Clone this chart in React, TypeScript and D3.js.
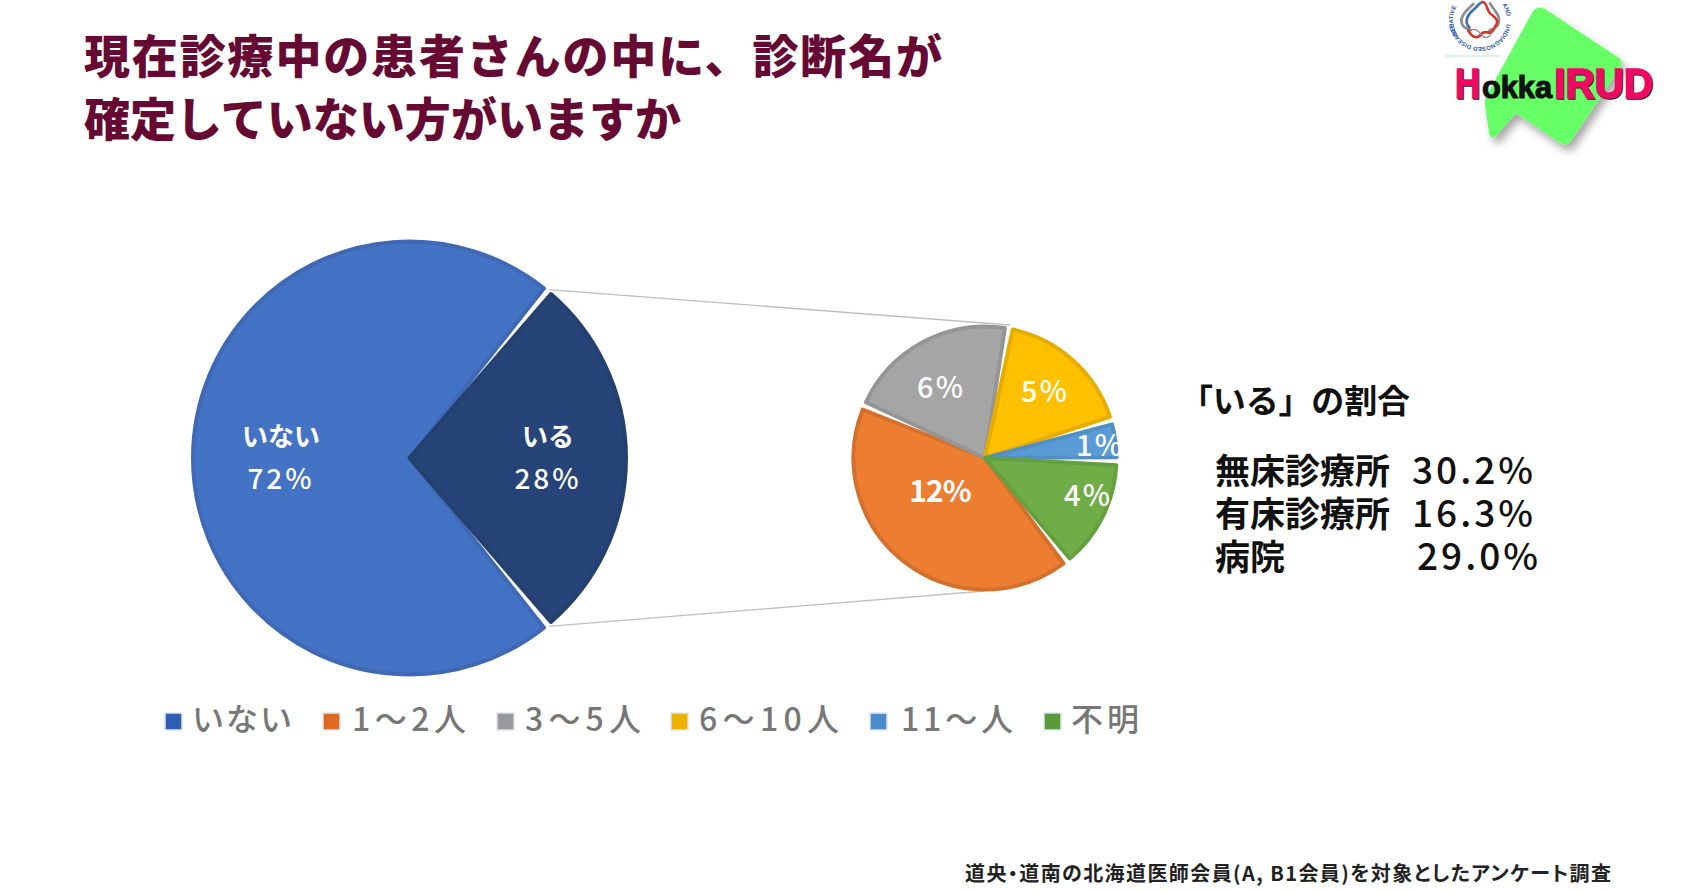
import React from "react";
import * as d3 from "d3";

const titleLines = ["現在診療中の患者さんの中に、診断名が", "確定していない方がいますか"];
const mainLabels = ["いない", "いる"];
const mainValues = [72, 28];
const mainPercent = ["72%", "28%"];
const mainColors = ["#4472C4", "#264478"];
const mainEdges = ["#3F69B5", "#23406F"];
const subNames = ["1〜2人", "3〜5人", "6〜10人", "11〜人", "不明"];
const subValues = [11.8, 6.0, 4.9, 1.4, 3.9];
const subPercent = ["12%", "6%", "5%", "1%", "4%"];
const subColors = ["#ED7D31", "#A5A5A5", "#FFC000", "#5B9BD5", "#70AD47"];
const subEdges = ["#D5702C", "#959595", "#E6AD00", "#5290C4", "#65A040"];
const legendNames = ["いない", ...subNames];
const legendColors = ["#2F5FB3", "#E0691F", "#999999", "#F0B000", "#4A8CCB", "#5B9A3A"];
const legendSwatchX = [165, 323, 497, 671, 870, 1044];
const legendTextX = [192, 352, 525, 699, 901, 1071];
const legendTextW = [100, 114, 116, 140, 112, 68];
const rateHeading = "「いる」の割合";
const rateNames = ["無床診療所", "有床診療所", "病院"];
const rateValues = ["30.2%", "16.3%", "29.0%"];
const rateValueX = [1536, 1536, 1541];
const rateValueY = [484, 527, 570];
const footnote = "道央・道南の北海道医師会員(A, B1会員)を対象としたアンケート調査";
const emblemLeft = "INITIATIVE";
const emblemRight = "AND";
const emblemBottom = "UNDIAGNOSED DISEASES";

const JP = "'Noto Sans CJK JP','Noto Sans',sans-serif";
const deg = Math.PI / 180;

const mainCenter = { x: 409.5, y: 458 };
const mainR = 218.5;
const subCenter = { x: 985, y: 458 };
const subR = 133.5;

const mainPie = d3.pie<number>().sort(null).startAngle(140.4 * deg).endAngle(500.4 * deg);
const subPie = d3.pie<number>().sort(null).startAngle(141.6 * deg).endAngle(501.6 * deg);
const mainArcs = mainPie(mainValues);
const subArcs = subPie(subValues);

function Slices({ arcs, r, colors, edges, edge, gap }: any) {
  const outer = r - edge / 2;
  const gen = d3.arc<d3.PieArcDatum<number>>().innerRadius(0).outerRadius(outer).padAngle(gap / outer).padRadius(outer);
  return arcs.map((a: any, i: number) => (
    <path key={i} d={gen(a) as string} fill={colors[i]} stroke={edges[i]} strokeWidth={edge} strokeLinejoin="round" />
  ));
}

const mainLabelPos = [
  { x: 281, y: 446, py: 489 },
  { x: 548, y: 446, py: 489 },
];
const subLabelPos = [
  { x: 940, y: 502 },
  { x: 941, y: 398 },
  { x: 1045, y: 402 },
  { x: 1100, y: 456 },
  { x: 1088, y: 506 },
];

const ring = (cx: number, cy: number, r: number, a0: number, a1: number) => {
  const pt = (a: number) => `${cx + r * Math.sin(a * deg)} ${cy - r * Math.cos(a * deg)}`;
  return `M${pt(a0)} A${r} ${r} 0 ${a1 - a0 > 180 ? 1 : 0} 1 ${pt(a1)}`;
};

export default function App() {
  const p = (a: number, c: any, r: number) => [c.x + r * Math.sin(a * deg), c.y - r * Math.cos(a * deg)];
  const [m1x, m1y] = p(39.6, mainCenter, mainR);
  const [m2x, m2y] = p(140.4, mainCenter, mainR);
  const logoPath = "M1533 11 Q1538 5 1545 9 L1619 58 Q1625 62 1620 68 L1571 141 Q1566 147 1560 143 L1516 113 L1497 135 Q1491 141 1489 133 L1485 105 Q1484 100 1487 95 Z";
  return (
    <svg width={1700} height={892} viewBox="0 0 1700 892"
      style={{ position: "absolute", left: 0, top: 0, background: "#fff", fontFamily: JP }}>
      <defs>
        <filter id="logoShadow" x="-20%" y="-20%" width="140%" height="140%">
          <feDropShadow dx="4" dy="6" stdDeviation="4" floodColor="#000" floodOpacity="0.35" />
        </filter>
        <path id="ringL" d={ring(1480, 20, 27, -125, -50)} fill="none" />
        <path id="ringR" d={ring(1480, 20, 27, 55, 90)} fill="none" />
        <path id="ringB" d={ring(1480, 20, 27, 98, 262)} fill="none" />
      </defs>

      {titleLines.map((t, i) => (
        <text key={i} x={84} y={73 + i * 63} fontSize={46} fontWeight={900} fill="#660A33" textLength={i === 0 ? 858 : 597} lengthAdjust="spacing">{t}</text>
      ))}

      {/* logo */}
      <g>
        <g fontSize={6} fill="#2C5AA0" fontWeight={700} fontFamily="'Liberation Sans',sans-serif">
          <text x={0} y={0}><textPath href="#ringL">{emblemLeft}</textPath></text>
          <text x={0} y={0}><textPath href="#ringR">{emblemRight}</textPath></text>
          <text x={0} y={0}><textPath href="#ringB">{emblemBottom}</textPath></text>
        </g>
        <g fill="none" strokeWidth={8} strokeLinecap="round" transform="translate(1400,0) scale(0.3333)">
          <path d="M220 12 C200 30 178 50 186 72 C192 88 205 85 212 90" stroke="#8C8C8C" />
          <path d="M270 10 C285 35 305 50 295 72 C288 88 275 85 268 92" stroke="#8C8C8C" />
          <path d="M208 82 C190 65 205 40 222 28 C235 15 240 8 248 6" stroke="#3E6FB5" />
          <path d="M248 6 C262 6 258 30 272 42 C290 55 298 65 285 80" stroke="#D9342B" />
          <path d="M205 92 C222 122 238 112 246 100 C256 88 272 110 282 86" stroke="#D9342B" />
          <path d="M212 92 C228 80 240 100 250 110 C262 118 272 105 278 96" stroke="#8C8C8C" strokeWidth={4} />
        </g>
        <line x1={1446} y1={56} x2={1500} y2={56} stroke="#BDE8D5" strokeWidth={1} />
        <path d={logoPath} fill="#66FF66" filter="url(#logoShadow)" />
        <g fontFamily="'Liberation Sans',sans-serif" fontWeight={700}>
          <text x={1456} y={99} fontSize={43} fill="#222" stroke="#222" strokeWidth={1.5} textLength={25} lengthAdjust="spacingAndGlyphs" aria-hidden="true">H</text>
          <text x={1455} y={98} fontSize={43} fill="#EE0A63" stroke="#EE0A63" strokeWidth={1.5} textLength={25} lengthAdjust="spacingAndGlyphs">H</text>
          <text x={1482} y={98} fontSize={32} fill="#111" stroke="#111" strokeWidth={1.2} textLength={70} lengthAdjust="spacingAndGlyphs">okka</text>
          <text x={1555} y={99} fontSize={43} fill="#222" stroke="#222" strokeWidth={1.5} textLength={99} lengthAdjust="spacingAndGlyphs" aria-hidden="true">IRUD</text>
          <text x={1554} y={98} fontSize={43} fill="#EE0A63" stroke="#EE0A63" strokeWidth={1.5} textLength={99} lengthAdjust="spacingAndGlyphs">IRUD</text>
        </g>
      </g>

      {/* connectors */}
      <line x1={m1x} y1={m1y} x2={1010} y2={325} stroke="#BFBFBF" strokeWidth={1.3} />
      <line x1={m2x} y1={m2y} x2={985} y2={591} stroke="#BFBFBF" strokeWidth={1.3} />

      <g transform={`translate(${mainCenter.x},${mainCenter.y})`}>
        <Slices arcs={mainArcs} r={mainR} colors={mainColors} edges={mainEdges} edge={4} gap={9} />
      </g>
      <g transform={`translate(${subCenter.x},${subCenter.y})`}>
        <Slices arcs={subArcs} r={subR} colors={subColors} edges={subEdges} edge={4} gap={8} />
      </g>

      {mainLabels.map((l, i) => (
        <g key={i} textAnchor="middle" fill="#fff" fontWeight={700}>
          <text x={mainLabelPos[i].x} y={mainLabelPos[i].y} fontSize={26}>{l}</text>
          <text x={mainLabelPos[i].x} y={mainLabelPos[i].py} fontSize={28} fontWeight={500} letterSpacing={3}>{mainPercent[i]}</text>
        </g>
      ))}
      {subPercent.map((l, i) => (
        <text key={i} x={subLabelPos[i].x} y={subLabelPos[i].y} fontSize={i === 0 ? 30 : 29} fontWeight={i === 0 ? 700 : 500}
          fill="#fff" textAnchor="middle" letterSpacing={i === 0 ? -1 : 2}>{l}</text>
      ))}

      {legendNames.map((l, i) => (
        <g key={i}>
          <rect x={legendSwatchX[i]} y={713} width={17} height={17} fill={legendColors[i]} stroke="#DCE6EE" strokeWidth={1.5} />
          <text x={legendTextX[i]} y={731} fontSize={32} fontWeight={500} fill="#777777" textLength={legendTextW[i]} lengthAdjust="spacing">{l}</text>
        </g>
      ))}

      <text x={1180} y={413} fontSize={33} fontWeight={700} fill="#111" textLength={230} lengthAdjust="spacing">{rateHeading}</text>
      {rateNames.map((n, i) => (
        <g key={i} fill="#111" fontWeight={700}>
          <text x={1215} y={rateValueY[i]} fontSize={35}>{n}</text>
          <text x={rateValueX[i]} y={rateValueY[i]} fontSize={37} fontWeight={500} textAnchor="end" letterSpacing={3}>{rateValues[i]}</text>
        </g>
      ))}

      <text x={965} y={881} fontSize={20} fontWeight={700} fill="#222" textLength={646} lengthAdjust="spacing" style={{ fontFeatureSettings: "'palt'" }}>{footnote}</text>
    </svg>
  );
}
